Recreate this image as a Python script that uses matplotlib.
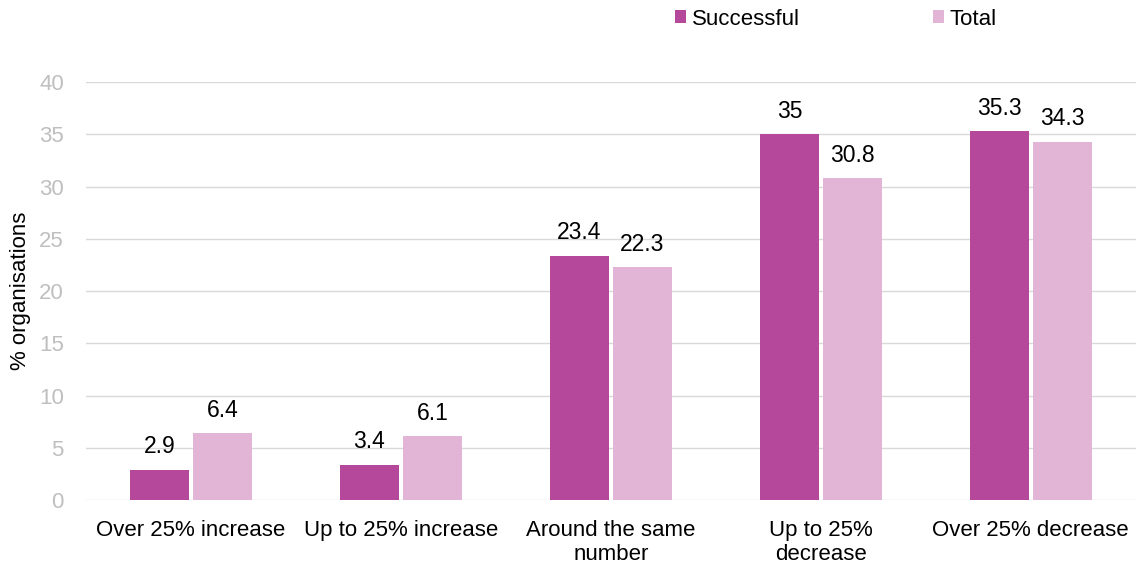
import matplotlib.pyplot as plt
import numpy as np

plt.rcParams['font.family'] = ['Liberation Sans', 'DejaVu Sans']

categories = ["Over 25% increase", "Up to 25% increase", "Around the same\nnumber",
              "Up to 25%\ndecrease", "Over 25% decrease"]
successful = [2.9, 3.4, 23.4, 35, 35.3]
total = [6.4, 6.1, 22.3, 30.8, 34.3]

c_succ = "#B5489A"
c_tot = "#E2B4D6"

fig = plt.figure(figsize=(11.41, 5.67), dpi=100)
ax = fig.add_axes([0.0754, 0.118, 0.92, 0.737])

x = np.arange(len(categories))
w = 0.28
b1 = ax.bar(x - 0.15, successful, w, color=c_succ, label="Successful")
b2 = ax.bar(x + 0.15, total, w, color=c_tot, label="Total")

for bars, vals in [(b1, successful), (b2, total)]:
    for r, v in zip(bars, vals):
        ax.text(r.get_x() + r.get_width() / 2, v + 1.1, "{:g}".format(v),
                ha="center", va="bottom", fontsize=16.5)

ax.set_xlim(-0.5, len(categories) - 0.5)
ax.set_ylim(0, 40)
ax.set_yticks(range(0, 41, 5))
ax.yaxis.grid(True, color="#D9D9D9", linewidth=1)
ax.set_axisbelow(True)
for s in ax.spines.values():
    s.set_visible(False)
ax.tick_params(axis="y", length=0, labelsize=16, labelcolor="#BFBFBF", pad=16)
ax.tick_params(axis="x", length=0, labelsize=16, pad=14)
ax.set_xticks(x)
ax.set_xticklabels(categories, linespacing=1.2)
ax.set_ylabel("% organisations", fontsize=16)
ax.yaxis.set_label_coords(-0.052, 0.5)

fig.legend(handles=[b1, b2], loc="upper left", bbox_to_anchor=(0.574, 1.02),
           ncol=2, frameon=False, fontsize=16, handlelength=0.5, handleheight=0.5,
           handletextpad=0.25, columnspacing=6.0)

fig.savefig("out.png", dpi=100)
